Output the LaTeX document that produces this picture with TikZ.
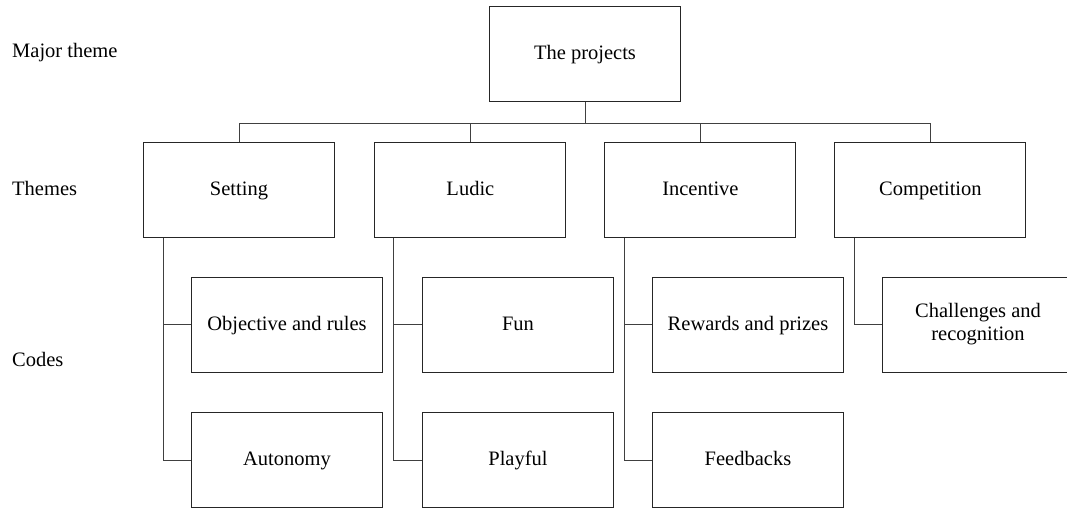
\documentclass[tikz,border=0pt]{standalone}
\usepackage{fontspec}
\setmainfont{Liberation Serif}
\begin{document}
\begin{tikzpicture}[x=1pt,y=-1pt,
  every node/.style={font=\fontsize{20.5}{23}\selectfont},
  box/.style={draw=black!85,line width=1pt,minimum width=191pt,minimum height=95pt,inner sep=0pt,align=center},
  one/.style={text height=14pt,text depth=3pt},
  lbl/.style={anchor=west,inner sep=0pt,text height=14pt,text depth=3pt},
  conn/.style={draw=black!75,line width=1pt}]
\useasboundingbox (0,0) rectangle (1067,508);
\clip (0,0) rectangle (1067,508);
\node[lbl] (lmaj) at (12,52) {Major theme};
\node[lbl] (lthe) at (12,190) {Themes};
\node[lbl] (lcod) at (12,361) {Codes};
\node[box,one] (top) at (585,54.2) {The projects};
\node[box,one] (set) at (239,190) {Setting};
\node[box,one] (lud) at (470.4,190) {Ludic};
\node[box,one] (inc) at (700.4,190) {Incentive};
\node[box,one] (com) at (930.4,190) {Competition};
\node[box,one] (obj) at (287,324.5) {Objective and rules};
\node[box,one] (aut) at (287,460) {Autonomy};
\node[box,one] (fun) at (518,324.5) {Fun};
\node[box,one] (pla) at (518,460) {Playful};
\node[box,one] (rew) at (748,324.5) {Rewards and prizes};
\node[box,one] (fee) at (748,460) {Feedbacks};
\node[box] (cha) at (978,324.5) {Challenges and\\recognition};
\draw[conn] (top.south) -- ++(0,21) coordinate (bus);
\foreach \t in {set,lud,inc,com} {\draw[conn] (\t.north) |- (bus);}
\coordinate (bs) at ([xshift=20pt]set.south west);
\coordinate (bl) at ([xshift=19pt]lud.south west);
\coordinate (bi) at ([xshift=20pt]inc.south west);
\coordinate (bc) at ([xshift=20pt]com.south west);
\draw[conn] (bs) |- (obj.west);
\draw[conn] (bs) |- (aut.west);
\draw[conn] (bl) |- (fun.west);
\draw[conn] (bl) |- (pla.west);
\draw[conn] (bi) |- (rew.west);
\draw[conn] (bi) |- (fee.west);
\draw[conn] (bc) |- (cha.west);
\end{tikzpicture}
\end{document}
